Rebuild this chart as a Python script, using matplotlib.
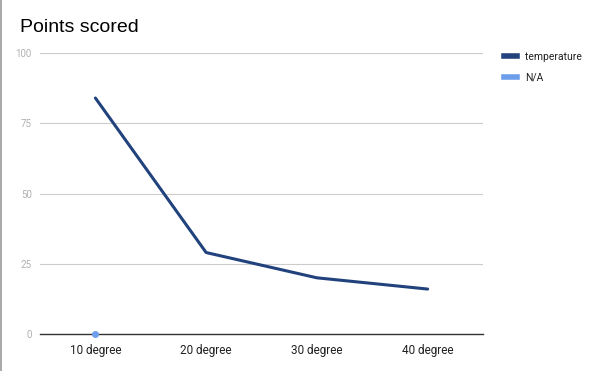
import matplotlib.pyplot as plt
from matplotlib.lines import Line2D

plt.rcParams['font.family'] = ['Roboto', 'DejaVu Sans']

# chart data
categories = ['10 degree', '20 degree', '30 degree', '40 degree']
temperature = [84, 29, 20, 16]
na_values = [0]
y_ticks = [0, 25, 50, 75, 100]

fig = plt.figure(figsize=(6, 3.71), dpi=100)
ax = fig.add_axes([0.0667, 0.0997, 0.7383, 0.7573])

x = list(range(len(categories)))
ax.plot(x, temperature, color='#21427c', linewidth=2.2, solid_capstyle='round')
ax.plot(x[:len(na_values)], na_values, 'o', color='#6d9eeb', markersize=4, clip_on=False, zorder=5)

ax.set_xlim(-0.5, len(categories) - 0.5)
ax.set_ylim(0, 100)
ax.set_yticks(y_ticks)
ax.set_yticklabels([str(v) for v in y_ticks], color='#b0b0b0', fontsize=7)
ax.set_xticks(x)
ax.set_xticklabels(categories, color='#222222', fontsize=8.5)
ax.tick_params(length=0, pad=6)
ax.tick_params(axis='x', pad=7)
ax.grid(axis='y', color='#cccccc', linewidth=0.8)
ax.set_axisbelow(True)
for s in ['top', 'right', 'left']:
    ax.spines[s].set_visible(False)
ax.spines['bottom'].set_color('#333333')
ax.spines['bottom'].set_linewidth(1)

fig.text(0.033, 0.915, 'Points scored', fontsize=14, color='#000000', ha='left', va='baseline',
         family=['Liberation Sans', 'DejaVu Sans'])

handles = [Line2D([], [], color='#21427c', linewidth=4),
           Line2D([], [], color='#6d9eeb', linewidth=4)]
fig.legend(handles, ['temperature', 'N/A'], loc='upper left', bbox_to_anchor=(0.825, 0.885),
           frameon=False, fontsize=7.5, handlelength=1.2, handletextpad=0.8, labelspacing=1.0,
           labelcolor='#222222')

# left border of the page
fig.add_artist(Line2D([0.002, 0.002], [0, 1], color='#999999', linewidth=1.2, transform=fig.transFigure))

fig.savefig('out.png', dpi=100)
